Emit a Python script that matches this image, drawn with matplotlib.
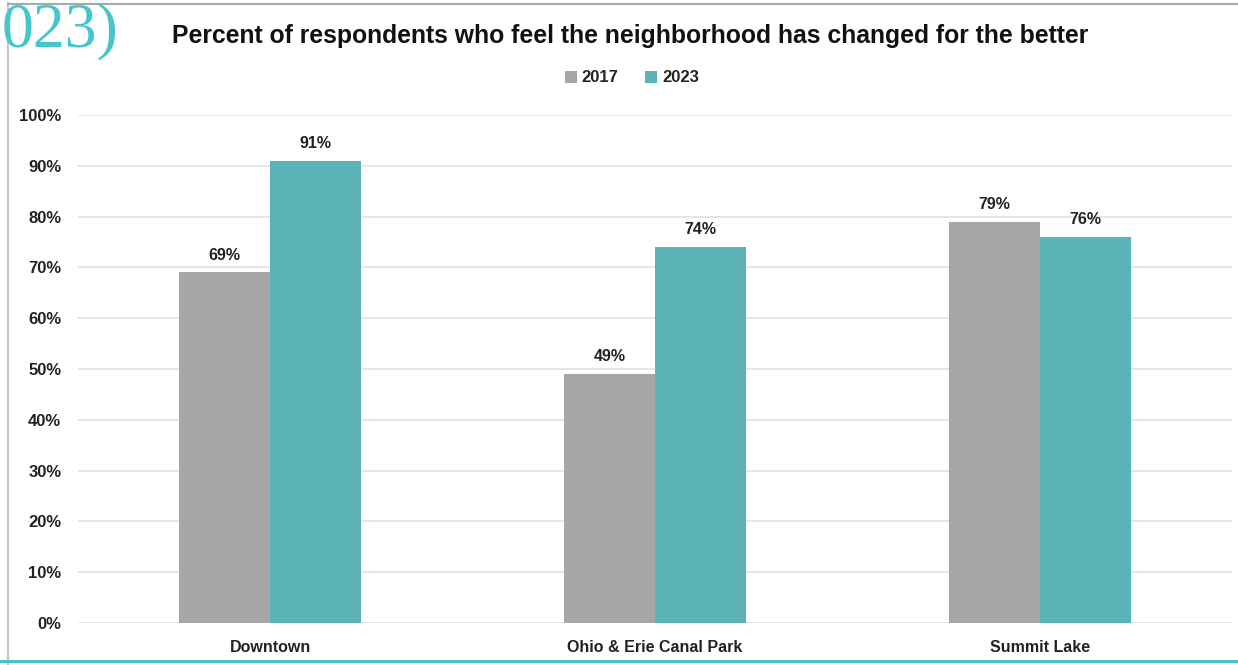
import numpy as np
import matplotlib.pyplot as plt
from matplotlib.lines import Line2D

# ============================================
# DATA
# ============================================

categories = ["Downtown", "Ohio & Erie Canal Park", "Summit Lake"]
series_names = ["2017", "2023"]
values_2017 = [69, 49, 79]
values_2023 = [91, 74, 76]
y_ticks = [0, 10, 20, 30, 40, 50, 60, 70, 80, 90, 100]

# ============================================
# STYLE
# ============================================

plt.rcParams['font.family'] = ['Liberation Sans', 'DejaVu Sans']

gray = "#a6a6a6"
teal = "#5bb3b7"
W, H = 1238, 665

fig = plt.figure(figsize=(W / 100, H / 100), dpi=100)
ax = fig.add_axes([78 / W, 42 / H, (1232 - 78) / W, (623 - 115) / H])

x = np.arange(len(categories))
bw = 0.237

bars1 = ax.bar(x - bw / 2, values_2017, bw, color=gray, label=series_names[0], zorder=3)
bars2 = ax.bar(x + bw / 2, values_2023, bw, color=teal, label=series_names[1], zorder=3)

for bars in (bars1, bars2):
    for b in bars:
        ax.annotate(
            f"{b.get_height():.0f}%",
            (b.get_x() + b.get_width() / 2, b.get_height()),
            xytext=(0, 7), textcoords="offset points",
            ha="center", va="bottom",
            fontsize=11.5, fontweight="bold", color="#222222"
        )

ax.set_xlim(-0.5, 2.5)
ax.set_ylim(0, 100)
ax.set_yticks(y_ticks)
ax.set_yticklabels([f"{t}%" for t in y_ticks])
ax.set_xticks(x)
ax.set_xticklabels(categories)

for lbl in ax.get_xticklabels() + ax.get_yticklabels():
    lbl.set_fontweight("bold")
    lbl.set_fontsize(11.5)
    lbl.set_color("#222222")
for lbl in ax.get_yticklabels():
    lbl.set_fontsize(12)

ax.tick_params(axis="both", length=0)
ax.tick_params(axis="y", pad=12)
ax.tick_params(axis="x", pad=12)
ax.grid(axis="y", color="#e2e2e2", linewidth=1.2, zorder=0)
for s in ax.spines.values():
    s.set_visible(False)

# title and legend
fig.text(630 / W, 1 - 36 / H, "Percent of respondents who feel the neighborhood has changed for the better",
         ha="center", va="center", fontsize=17.8, fontweight="bold", color="#111111")

leg = fig.legend(
    handles=[bars1, bars2], labels=series_names,
    loc="center", bbox_to_anchor=(632 / W, 1 - 78 / H),
    ncol=2, frameon=False, handlelength=0.7, handleheight=0.7,
    handletextpad=0.3, columnspacing=1.6,
    prop={"weight": "bold", "size": 12}
)
for t in leg.get_texts():
    t.set_color("#222222")

# cropped heading from the page behind the chart
fig.text(2 / W, 1 - 46 / H, "023)", ha="left", va="baseline",
         fontsize=46, color="#45c5cc", family="Liberation Serif")

# page border lines
fig.add_artist(Line2D([8 / W, 8 / W], [0, 1 - 3 / H], color="#c8c8c8", linewidth=1.5))
fig.add_artist(Line2D([8 / W, 1], [1 - 3.5 / H, 1 - 3.5 / H], color="#a8a8a8", linewidth=1.5))
fig.add_artist(Line2D([0, 1], [1 - 661 / H, 1 - 661 / H], color="#45c5cc", linewidth=2.2))

plt.savefig("out.png", dpi=100)
